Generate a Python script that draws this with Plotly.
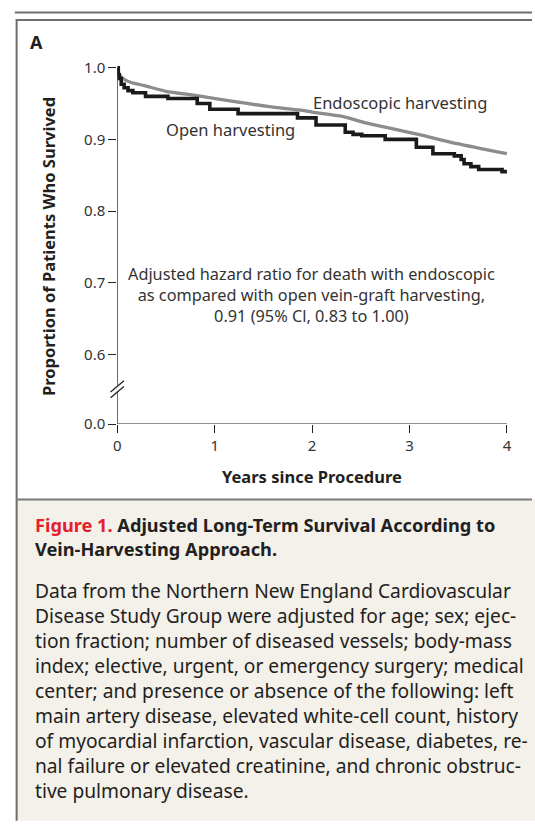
import plotly.graph_objects as go

# ---------------- data ----------------
endo_years = [0, 0.01, 0.03, 0.05, 0.08, 0.15, 0.28, 0.50, 0.82, 1.19, 1.60, 1.87, 2.00, 2.31, 2.55, 2.75, 3.09, 3.49, 4.00]
endo_surv = [1.000, 0.994, 0.989, 0.986, 0.983, 0.979, 0.975, 0.967, 0.961, 0.953, 0.945, 0.941, 0.938, 0.932, 0.923, 0.917, 0.907, 0.894, 0.880]

open_years = [0, 0.01, 0.02, 0.04, 0.07, 0.11, 0.16, 0.29, 0.52, 0.82, 0.95, 1.24, 1.85, 2.04, 2.34, 2.42, 2.51, 2.75, 3.07, 3.24, 3.46, 3.53, 3.56, 3.63, 3.71, 3.95, 4.00]
open_surv = [1.000, 0.990, 0.985, 0.977, 0.972, 0.968, 0.965, 0.960, 0.957, 0.950, 0.942, 0.936, 0.930, 0.920, 0.910, 0.907, 0.905, 0.900, 0.889, 0.880, 0.877, 0.872, 0.866, 0.862, 0.858, 0.855, 0.855]

x_ticks = [0, 1, 2, 3, 4]
y_tick_vals = [0.503, 0.6, 0.7, 0.8, 0.9, 1.0]   # 0.503 = displayed position of 0.0 after axis break
y_tick_text = ["0.0", "0.6", "0.7", "0.8", "0.9", "1.0"]

caption_title = ["<span style='color:#e4202b'>Figure 1.</span> Adjusted Long-Term Survival According to",
                 "Vein-Harvesting Approach."]
caption_body = [
    "Data from the Northern New England Cardiovascular",
    "Disease Study Group were adjusted for age; sex; ejec-",
    "tion fraction; number of diseased vessels; body-mass",
    "index; elective, urgent, or emergency surgery; medical",
    "center; and presence or absence of the following: left",
    "main artery disease, elevated white-cell count, history",
    "of myocardial infarction, vascular disease, diabetes, re-",
    "nal failure or elevated creatinine, and chronic obstruc-",
    "tive pulmonary disease.",
]
hr_lines = ["Adjusted hazard ratio for death with endoscopic",
            "as compared with open vein-graft harvesting,",
            "0.91 (95% Cl, 0.83 to 1.00)"]

# ---------------- geometry ----------------
W, H = 535, 824
FONT = "Noto Sans"
TXT = "#333333"
DARK = "#231f20"

def px(x):
    return x / W

def py(y):
    return 1 - y / H

X0, XPU = 114.8, 98.7      # pixel of x=0, pixels per year
Y1, YPU = 60.0, 733.0      # pixel of y=1.0, pixels per unit
xr = [0, 4.02]
yr = [0.503, 1.003]
xdom = [px(X0 + xr[0] * XPU), px(X0 + xr[1] * XPU)]
ydom = [py(Y1 + (1 - yr[0]) * YPU), py(Y1 + (1 - yr[1]) * YPU)]

def yval(pix):
    return 1 - (pix - Y1) / YPU

fig = go.Figure()
fig.add_trace(go.Scatter(x=endo_years, y=endo_surv, mode="lines",
                         line=dict(color="#8c8c8c", width=3.3, shape="spline", smoothing=0.6),
                         showlegend=False, hoverinfo="skip"))
fig.add_trace(go.Scatter(x=open_years, y=open_surv, mode="lines",
                         line=dict(color="#1a1a1a", width=3.6, shape="hv"),
                         showlegend=False, hoverinfo="skip"))

shapes = []
# frame
shapes.append(dict(type="line", xref="paper", yref="paper", x0=px(11), x1=px(535), y0=py(3.7), y1=py(3.7),
                   line=dict(color="#6e6e6e", width=2)))
shapes.append(dict(type="rect", xref="paper", yref="paper", x0=px(12.8), x1=px(540), y0=py(501.5), y1=py(830),
                   fillcolor="#f4f0ea", line=dict(width=0), layer="below"))
shapes.append(dict(type="line", xref="paper", yref="paper", x0=px(12), x1=px(535), y0=py(11.3), y1=py(11.3),
                   line=dict(color="#6e6e6e", width=2)))
shapes.append(dict(type="line", xref="paper", yref="paper", x0=px(12.8), x1=px(12.8), y0=py(10.3), y1=py(830),
                   line=dict(color="#6e6e6e", width=2)))
shapes.append(dict(type="line", xref="paper", yref="paper", x0=px(12), x1=px(535), y0=py(501.5), y1=py(501.5),
                   line=dict(color="#7a7a7a", width=2)))
# axis lines (with break)
AX = dict(color="#222222", width=1.3)
shapes.append(dict(type="line", xref="x", yref="y", x0=0, x1=4, y0=yr[0], y1=yr[0], line=AX))
shapes.append(dict(type="line", xref="x", yref="y", x0=0, x1=0, y0=yr[0], y1=yval(391), line=AX))
shapes.append(dict(type="line", xref="x", yref="y", x0=0, x1=0, y0=yval(385), y1=1.0, line=AX))
for off in (0, -6):
    shapes.append(dict(type="line", xref="paper", yref="paper",
                       x0=px(108), x1=px(121.5), y0=py(397.5 + off), y1=py(386 + off), line=AX))

def note(text, x, y, size, color=TXT, xanchor="center", **kw):
    return dict(text=text, x=px(x), y=py(y), xref="paper", yref="paper", xanchor=xanchor,
                yanchor="middle", showarrow=False, font=dict(family=FONT, size=size, color=color), **kw)

ann = []
ann.append(note("<b>A</b>", 24, 33.5, 18, DARK, xanchor="left"))
ann.append(note("Endoscopic harvesting", 401, 96, 16.5))
ann.append(note("Open harvesting", 229, 123, 16.5))
ann.append(note("<br>".join(hr_lines), 312, 292, 16.3, align="center"))
ann.append(note("<b>Years since Procedure</b>", 312.5, 478, 16.5, DARK))
ann.append(note("<b>Proportion of Patients Who Survived</b>", 45, 243, 16.5, DARK, textangle=-90))
ann.append(note("<br>".join("<b>" + t + "</b>" for t in caption_title), 29, 539.5, 18.2, DARK,
                xanchor="left", align="left"))
ann.append(note("<br>".join(caption_body), 29, 697, 19.2, DARK, xanchor="left", align="left"))

fig.update_layout(
    width=W, height=H, margin=dict(l=0, r=0, t=0, b=0),
    paper_bgcolor="white", plot_bgcolor="rgba(0,0,0,0)",
    shapes=shapes, annotations=ann,
    xaxis=dict(domain=xdom, range=xr, tickvals=x_ticks, ticks="outside", ticklen=8, tickwidth=1.2,
               tickcolor="#222222", showgrid=False, zeroline=False, showline=False,
               tickfont=dict(family=FONT, size=15, color=TXT), fixedrange=True),
    yaxis=dict(domain=ydom, range=yr, tickvals=y_tick_vals, ticktext=y_tick_text, ticks="outside",
               ticklen=8, tickwidth=1.2, tickcolor="#222222", showgrid=False, zeroline=False,
               showline=False, tickfont=dict(family=FONT, size=15, color=TXT), fixedrange=True),
)

post = ("var d=document.documentElement,b=document.body;"
        "d.style.margin='0';d.style.padding='0';d.style.overflow='hidden';"
        "b.style.margin='0';b.style.padding='0';b.style.overflow='hidden';window.scrollTo(0,0);")
fig.write_html("out.html", config={"displayModeBar": False}, post_script=post)
